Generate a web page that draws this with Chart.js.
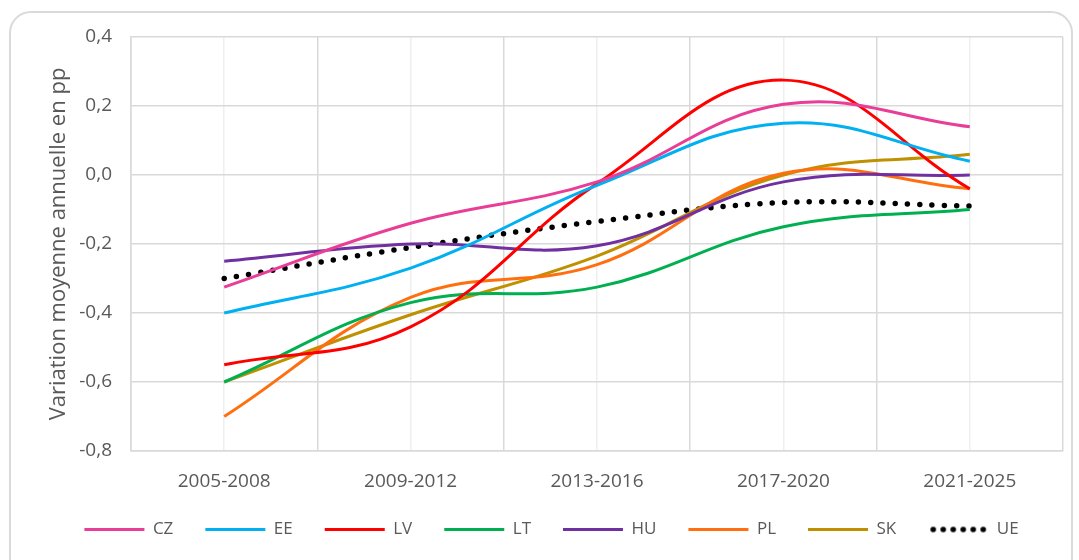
<!DOCTYPE html>
<html>
<head>
<meta charset="utf-8">
<script src="https://cdn.jsdelivr.net/npm/chart.js@4/dist/chart.umd.min.js"></script>
<style>
  html, body { margin: 0; padding: 0; background: #fff; }
  #wrap { position: relative; width: 1079px; height: 560px; overflow: hidden; }
  #frame {
    position: absolute; left: 9px; top: 11px; width: 1064px; height: 580px;
    border: 2px solid #dadada; border-radius: 22px; box-sizing: border-box;
  }
  #c { position: absolute; left: 0; top: 0; }
</style>
</head>
<body>
<div id="wrap">
  <div id="frame"></div>
  <canvas id="c" width="1079" height="560"></canvas>
</div>
<script>
const periods = ['2005-2008', '2009-2012', '2013-2016', '2017-2020', '2021-2025'];
const yTicks = [0.4, 0.2, 0.0, -0.2, -0.4, -0.6, -0.8];

const cz = [-0.325, -0.14, -0.02, 0.205, 0.14];
const ee = [-0.40, -0.27, -0.03, 0.15, 0.04];
const lv = [-0.55, -0.44, -0.025, 0.275, -0.04];
const lt = [-0.60, -0.37, -0.325, -0.15, -0.10];
const hu = [-0.25, -0.20, -0.205, -0.02, 0.0];
const pl = [-0.70, -0.355, -0.26, 0.005, -0.04];
const sk = [-0.60, -0.405, -0.235, 0.0, 0.06];
const ue = [-0.30, -0.21, -0.135, -0.08, -0.09];

const fontFamily = "'Open Sans', sans-serif";
const textColor = '#595959';

// dotted sample for the UE legend entry (legend point styles drop the dash)
const dotSample = document.createElement('canvas');
dotSample.width = 60;
dotSample.height = 8;
(function () {
    const g = dotSample.getContext('2d');
    g.fillStyle = '#000';
    for (let i = 0; i < 6; i++) {
        g.beginPath();
        g.arc(5 + i * 10, 4, 2.8, 0, Math.PI * 2);
        g.fill();
    }
})();

function line(label, data, color) {
    return {
        label: label,
        data: data,
        borderColor: color,
        backgroundColor: color,
        borderWidth: 3,
        pointRadius: 0,
        tension: 0.4,
        fill: false
    };
}

const datasets = [
    line('CZ', cz, '#E83E97'),
    line('EE', ee, '#00B0F0'),
    line('LV', lv, '#FF0000'),
    line('LT', lt, '#00B050'),
    line('HU', hu, '#7030A0'),
    line('PL', pl, '#FF6F0F'),
    line('SK', sk, '#BF9000'),
    {
        label: 'UE',
        data: ue,
        borderColor: '#000000',
        backgroundColor: '#000000',
        borderWidth: 5.5,
        borderDash: [0, 12.3],
        borderCapStyle: 'round',
        pointRadius: 0,
        tension: 0.4,
        fill: false
    }
];

const ctx = document.getElementById('c').getContext('2d');
const chart = new Chart(ctx, {
    type: 'line',
    data: { labels: periods, datasets: datasets },
    options: {
        responsive: false,
        animation: false,
        layout: { padding: { left: 40, right: 16, top: 37, bottom: 12 } },
        scales: {
            x: {
                offset: true,
                grid: { offset: true, color: '#d9d9d9', lineWidth: 1.5, drawTicks: false },
                border: { color: '#d9d9d9', width: 1.5 },
                ticks: { color: textColor, font: { family: fontFamily, size: 19 }, padding: 19 },
                afterFit: (s) => { s.height = 38; }
            },
            xc: {
                type: 'category',
                position: 'bottom',
                offset: true,
                grid: { offset: false, color: '#efefef', lineWidth: 1.5, drawTicks: false },
                border: { display: false },
                ticks: { display: false },
                afterFit: (s) => { s.height = 0; }
            },
            y: {
                min: -0.8,
                max: 0.4,
                afterBuildTicks: (s) => { s.ticks = yTicks.map(v => ({ value: v })); },
                grid: { color: '#d9d9d9', lineWidth: 1.5, drawTicks: false },
                border: { color: '#d9d9d9', width: 1.5 },
                ticks: {
                    color: textColor,
                    font: { family: fontFamily, size: 19 },
                    padding: 19,
                    callback: (v) => v.toFixed(1).replace('.', ',')
                },
                title: {
                    display: true,
                    text: 'Variation moyenne annuelle en pp',
                    color: textColor,
                    font: { family: fontFamily, size: 22 },
                    padding: { top: 6, bottom: 0 }
                },
                afterFit: (s) => { s.width = 91; }
            }
        },
        plugins: {
            legend: {
                position: 'bottom',
                labels: {
                    usePointStyle: true,
                    pointStyle: 'line',
                    pointStyleWidth: 60,
                    color: textColor,
                    font: { family: fontFamily, size: 17 },
                    padding: 32,
                    generateLabels: (c) => {
                        const items = Chart.defaults.plugins.legend.labels.generateLabels(c);
                        items.forEach(it => {
                            if (it.text === 'UE') it.pointStyle = dotSample;
                        });
                        return items;
                    }
                }
            },
            tooltip: { enabled: false }
        }
    }
});
</script>
</body>
</html>
